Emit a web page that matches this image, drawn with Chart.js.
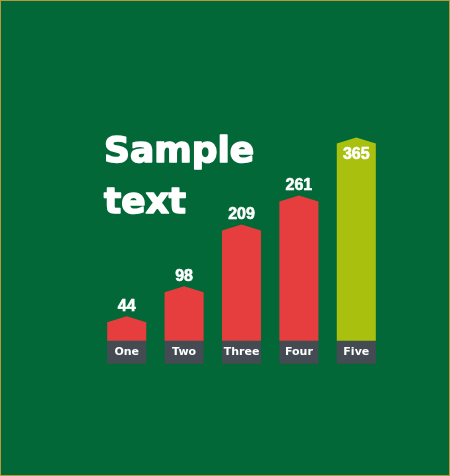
<!DOCTYPE html>
<html>
<head>
<meta charset="utf-8">
<script src="https://cdn.jsdelivr.net/npm/chart.js@4/dist/chart.umd.min.js"></script>
<style>
  html, body { margin: 0; padding: 0; background: #036837; }
  #wrap { width: 448px; height: 474px; border: 1px solid #b49a3c; background: #036837; }
  canvas { display: block; }
</style>
</head>
<body>
<div id="wrap"><canvas id="c" width="448" height="474"></canvas></div>
<script>
const categories = ["One", "Two", "Three", "Four", "Five"];
const values = [44, 98, 209, 261, 365];
const barColors = ["#e63e3e", "#e63e3e", "#e63e3e", "#e63e3e", "#a9c10e"];
const titleLines = ["Sample", "text"];

const boxPlugin = {
  id: 'labelBoxes',
  beforeDraw(chart) {
    const ctx = chart.ctx;
    const meta = chart.getDatasetMeta(0);
    const bottom = chart.chartArea.bottom;
    ctx.save();
    ctx.fillStyle = "#454b53";
    meta.data.forEach(el => {
      const w = el.width;
      ctx.fillRect(el.x - w / 2, bottom, w, 23);
    });
    ctx.restore();
  }
};

const arrowBars = {
  id: 'arrowBars',
  beforeDatasetDraw(chart, args) {
    const ctx = chart.ctx;
    const meta = args.meta;
    ctx.save();
    meta.data.forEach(el => {
      const w = el.width, x = el.x, y = el.y, base = el.base;
      const cap = 6;
      ctx.fillStyle = el.options.backgroundColor;
      ctx.beginPath();
      ctx.moveTo(x - w / 2, base);
      ctx.lineTo(x - w / 2, y + cap);
      ctx.lineTo(x, y);
      ctx.lineTo(x + w / 2, y + cap);
      ctx.lineTo(x + w / 2, base);
      ctx.closePath();
      ctx.fill();
    });
    ctx.restore();
    return false;
  },
  afterDatasetsDraw(chart) {
    const ctx = chart.ctx;
    const meta = chart.getDatasetMeta(0);
    ctx.save();
    ctx.fillStyle = "#ffffff";
    ctx.strokeStyle = "#ffffff";
    ctx.lineJoin = "round";
    ctx.font = "bold 16px 'Liberation Sans', Arial, sans-serif";
    ctx.textAlign = "center";
    ctx.textBaseline = "alphabetic";
    ctx.lineWidth = 0.6;
    meta.data.forEach((el, i) => {
      const v = values[i];
      const inside = el.y - chart.chartArea.top < 40;
      const yy = inside ? el.y + 22 : el.y - 5;
      ctx.fillText(String(v), el.x, yy);
      ctx.strokeText(String(v), el.x, yy);
    });
    // Title
    ctx.font = "bold 36px 'DejaVu Sans', Verdana, sans-serif";
    ctx.textAlign = "left";
    ctx.lineWidth = 1.6;
    ctx.fillText(titleLines[0], 103, 161);
    ctx.strokeText(titleLines[0], 103, 161);
    ctx.fillText(titleLines[1], 103, 212);
    ctx.strokeText(titleLines[1], 103, 212);
    ctx.restore();
  }
};

new Chart(document.getElementById('c'), {
  type: 'bar',
  data: {
    labels: categories,
    datasets: [{
      data: values,
      backgroundColor: barColors,
      barPercentage: 0.68,
      categoryPercentage: 1.0
    }]
  },
  options: {
    responsive: false,
    animation: false,
    layout: { padding: { left: 97, right: 64, top: 117, bottom: 111 } },
    plugins: { legend: { display: false }, tooltip: { enabled: false } },
    scales: {
      x: {
        grid: { display: false, drawTicks: false },
        border: { display: false },
        ticks: {
          color: "#ffffff",
          padding: 5,
          font: { family: "'DejaVu Sans', Verdana, sans-serif", size: 11, weight: 'bold' }
        }
      },
      y: {
        display: false,
        min: 0,
        max: 400
      }
    }
  },
  plugins: [boxPlugin, arrowBars]
});
</script>
</body>
</html>
